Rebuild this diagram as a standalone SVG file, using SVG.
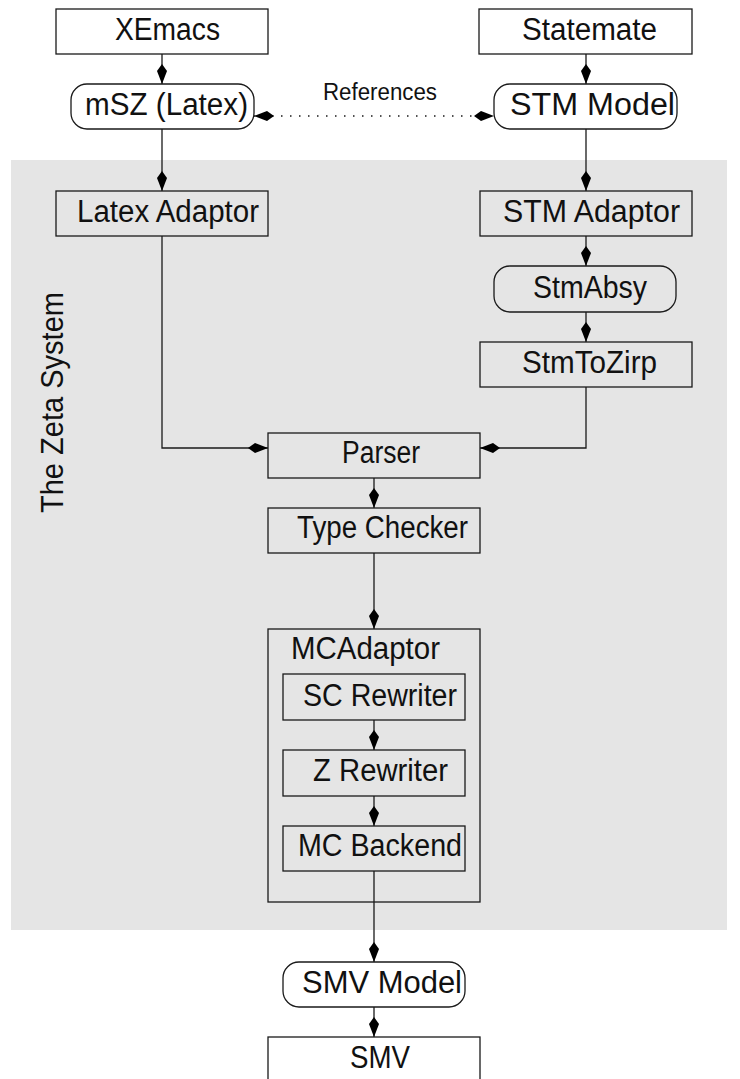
<svg xmlns="http://www.w3.org/2000/svg" width="740" height="1079" viewBox="0 0 740 1079">
<style>
.box{fill:none;stroke:#1a1a1a;stroke-width:1.3}
.wbox{fill:#fff;stroke:#1a1a1a;stroke-width:1.3}
.lbl{font-family:"Liberation Sans",Arial,sans-serif;font-size:31px;fill:#111}
.ref{font-family:"Liberation Sans",Arial,sans-serif;font-size:23px;fill:#111}
.c{fill:none;stroke:#1a1a1a;stroke-width:1.3}
.dot{fill:none;stroke:#1a1a1a;stroke-width:1.5;stroke-dasharray:1.5 7.5}
</style>
<defs>
<marker id="dia" viewBox="0 -5 20 10" markerWidth="20" markerHeight="10" refX="20" refY="0" orient="auto-start-reverse" markerUnits="userSpaceOnUse">
<path d="M0,0 L7,-5 L20,0 L7,5 Z" fill="#000"/>
</marker>
</defs>
<rect x="11" y="160" width="716" height="770" fill="#e5e5e5"/>
<text class="lbl" transform="translate(63,513) rotate(-90)" x="0" y="0" textLength="221" lengthAdjust="spacingAndGlyphs">The Zeta System</text>
<g id="connectors">
<path class="c" d="M162,54 V84" marker-end="url(#dia)"/>
<path class="c" d="M586,54 V84" marker-end="url(#dia)"/>
<path class="c" d="M162,129 V191" marker-end="url(#dia)"/>
<path class="c" d="M586,129 V191" marker-end="url(#dia)"/>
<path class="c" d="M586,236 V266" marker-end="url(#dia)"/>
<path class="c" d="M586,312 V342" marker-end="url(#dia)"/>
<path class="c" d="M162,236 V448 H268" marker-end="url(#dia)"/>
<path class="c" d="M586,387 V448 H480" marker-end="url(#dia)"/>
<path class="c" d="M374,478 V508" marker-end="url(#dia)"/>
<path class="c" d="M374,553 V629" marker-end="url(#dia)"/>
<path class="c" d="M374,720 V750" marker-end="url(#dia)"/>
<path class="c" d="M374,796 V826" marker-end="url(#dia)"/>
<path class="c" d="M374,871 V962" marker-end="url(#dia)"/>
<path class="c" d="M374,1007 V1037" marker-end="url(#dia)"/>
<path class="dot" d="M254,116 H494" marker-start="url(#dia)" marker-end="url(#dia)"/>
<text class="ref" x="323" y="100" textLength="114" lengthAdjust="spacingAndGlyphs">References</text>
</g>
<g id="xemacs"><rect class="wbox" x="56" y="9" width="212" height="45"/><text class="lbl" x="115" y="40" textLength="105" lengthAdjust="spacingAndGlyphs">XEmacs</text></g>
<g id="statemate"><rect class="wbox" x="479" y="9" width="213" height="45"/><text class="lbl" x="522" y="40" textLength="135" lengthAdjust="spacingAndGlyphs">Statemate</text></g>
<g id="msz"><rect class="wbox" x="71" y="84" width="183" height="45" rx="16"/><text class="lbl" x="85" y="115" textLength="163" lengthAdjust="spacingAndGlyphs">mSZ (Latex)</text></g>
<g id="stmmodel"><rect class="wbox" x="494" y="84" width="183" height="45" rx="16"/><text class="lbl" x="510" y="115" textLength="165" lengthAdjust="spacingAndGlyphs">STM Model</text></g>
<g id="latexadaptor"><rect class="box" x="56" y="191" width="212" height="45"/><text class="lbl" x="77" y="222" textLength="182" lengthAdjust="spacingAndGlyphs">Latex Adaptor</text></g>
<g id="stmadaptor"><rect class="box" x="480" y="191" width="212" height="45"/><text class="lbl" x="503" y="222" textLength="177" lengthAdjust="spacingAndGlyphs">STM Adaptor</text></g>
<g id="stmabsy"><rect class="box" x="494" y="266" width="182" height="46" rx="16"/><text class="lbl" x="533" y="298" textLength="114" lengthAdjust="spacingAndGlyphs">StmAbsy</text></g>
<g id="stmtozirp"><rect class="box" x="480" y="342" width="212" height="45"/><text class="lbl" x="522" y="373" textLength="135" lengthAdjust="spacingAndGlyphs">StmToZirp</text></g>
<g id="parser"><rect class="box" x="268" y="433" width="212" height="45"/><text class="lbl" x="342" y="463" textLength="78" lengthAdjust="spacingAndGlyphs">Parser</text></g>
<g id="typechecker"><rect class="box" x="268" y="508" width="212" height="45"/><text class="lbl" x="297" y="538" textLength="171" lengthAdjust="spacingAndGlyphs">Type Checker</text></g>
<g id="mcadaptor"><rect class="box" x="268" y="629" width="212" height="273"/><text class="lbl" x="291" y="659" textLength="149" lengthAdjust="spacingAndGlyphs">MCAdaptor</text></g>
<g id="screwriter"><rect class="box" x="283" y="674" width="182" height="46"/><text class="lbl" x="303" y="706" textLength="154" lengthAdjust="spacingAndGlyphs">SC Rewriter</text></g>
<g id="zrewriter"><rect class="box" x="283" y="750" width="182" height="46"/><text class="lbl" x="313" y="781" textLength="135" lengthAdjust="spacingAndGlyphs">Z Rewriter</text></g>
<g id="mcbackend"><rect class="box" x="283" y="826" width="182" height="45"/><text class="lbl" x="298" y="856" textLength="164" lengthAdjust="spacingAndGlyphs">MC Backend</text></g>
<g id="smvmodel"><rect class="wbox" x="283" y="962" width="182" height="45" rx="16"/><text class="lbl" x="302" y="993" textLength="160" lengthAdjust="spacingAndGlyphs">SMV Model</text></g>
<g id="smv"><rect class="wbox" x="268" y="1037" width="212" height="45"/><text class="lbl" x="350" y="1068" textLength="60" lengthAdjust="spacingAndGlyphs">SMV</text></g>
</svg>
